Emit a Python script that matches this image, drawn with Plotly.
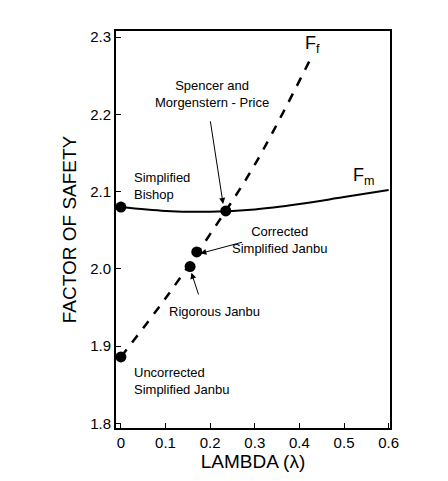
import plotly.graph_objects as go

ff_x = [0, 0.1, 0.2, 0.3, 0.425]
ff_y = [1.886, 1.962, 2.045, 2.135, 2.272]
fm_x = [0, 0.1, 0.2, 0.3, 0.4, 0.5, 0.6]
fm_y = [2.080, 2.075, 2.074, 2.077, 2.084, 2.093, 2.102]
pt_x = [0, 0, 0.155, 0.17, 0.235]
pt_y = [2.080, 1.886, 2.003, 2.022, 2.075]

fig = go.Figure()
fig.add_trace(go.Scatter(x=ff_x, y=ff_y, mode="lines", line=dict(color="black", width=2.5, dash="dash", shape="spline")))
fig.add_trace(go.Scatter(x=fm_x, y=fm_y, mode="lines", line=dict(color="black", width=2, shape="spline")))
fig.add_trace(go.Scatter(x=pt_x, y=pt_y, mode="markers", marker=dict(color="black", size=11), cliponaxis=False))

f = dict(family="Liberation Sans, Arial", size=13, color="black")
anns = [
    dict(x=0.025, y=2.107, text="Simplified<br>Bishop", showarrow=False, xanchor="left", align="left"),
    dict(x=0.025, y=1.855, text="Uncorrected<br>Simplified Janbu", showarrow=False, xanchor="left", align="left"),
    dict(x=0.21, y=1.945, text="Rigorous Janbu", showarrow=False, xanchor="center"),
    dict(x=0.355, y=2.037, text="Corrected<br>Simplified Janbu", showarrow=False, xanchor="center"),
    dict(x=0.205, y=2.226, text="Spencer and<br>Morgenstern - Price", showarrow=False, xanchor="center"),
    dict(x=0.43, y=2.29, text="F<sub>f</sub>", showarrow=False, font=dict(family="Liberation Sans", size=18, color="black")),
    dict(x=0.545, y=2.12, text="F<sub>m</sub>", showarrow=False, font=dict(family="Liberation Sans", size=18, color="black")),
]
for a in anns:
    a.setdefault("font", f)
    fig.add_annotation(**a)
arrows = [((0.2, 2.193), (0.229, 2.084)), ((0.175, 1.965), (0.158, 1.995)), ((0.275, 2.035), (0.178, 2.02))]
for (tx, ty), (hx, hy) in arrows:
    fig.add_annotation(x=hx, y=hy, ax=tx, ay=ty, axref="x", ayref="y", text="", showarrow=True,
                       arrowhead=2, arrowsize=1.2, arrowwidth=1, arrowcolor="black")

ax = dict(showline=True, mirror=True, linecolor="black", linewidth=2, ticks="inside", ticklen=5,
          tickcolor="black", showgrid=False, zeroline=False, tickfont=dict(family="Liberation Sans", size=15, color="black"))
fig.update_layout(
    width=448, height=481, showlegend=False, plot_bgcolor="white", paper_bgcolor="white",
    margin=dict(l=108, r=66, t=23, b=61),
    xaxis=dict(range=[-0.011, 0.603], tickvals=[0, 0.1, 0.2, 0.3, 0.4, 0.5, 0.6],
               ticktext=["0", "0.1", "0.2", "0.3", "0.4", "0.5", "0.6"],
               title=dict(text="LAMBDA (λ)", font=dict(family="Liberation Sans", size=19, color="black"), standoff=5), **ax),
    yaxis=dict(range=[1.794, 2.308], tickvals=[1.8, 1.9, 2.0, 2.1, 2.2, 2.3],
               ticktext=["1.8", "1.9", "2.0", "2.1", "2.2", "2.3"],
               title=dict(text="FACTOR OF SAFETY", font=dict(family="Liberation Sans", size=19, color="black"), standoff=8), **ax),
)
fig.write_html("out.html")
